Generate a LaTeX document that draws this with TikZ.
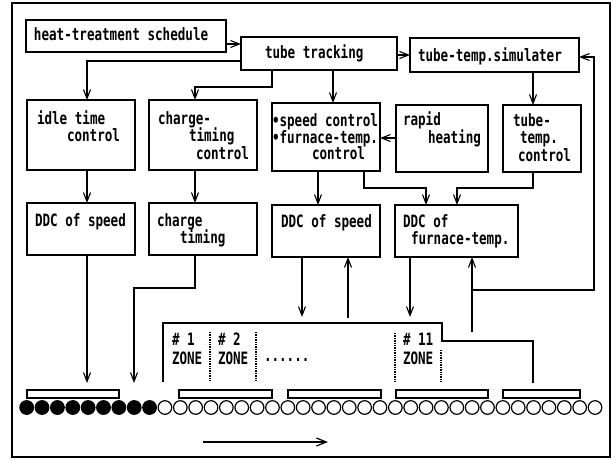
\documentclass[tikz,border=0pt]{standalone}
\usepackage{fontspec}
\setmonofont{DejaVu Sans Mono}[FakeStretch=0.74]
\usetikzlibrary{arrows.meta}
\begin{document}
\begin{tikzpicture}[x=1pt,y=-1pt,
  box/.style={draw, line width=1.4pt, inner sep=0pt, outer sep=0pt},
  txt/.style={inner sep=0pt, outer sep=0pt, anchor=west, text height=12pt, text depth=3pt,
    font=\fontsize{17}{19}\selectfont\ttfamily\bfseries},
  ln/.style={line width=1.3pt},
  arr/.style={line width=1.3pt, -{Straight Barb[length=9pt,width=7pt,line width=1.1pt]}},
  zdiv/.style={line width=1.4pt, densely dotted},
  roll/.style={draw, line width=1.2pt, minimum size=13.6pt, circle, inner sep=0pt}]
\useasboundingbox (0,0) rectangle (616,459);
% frame
\draw[line width=1.2pt] (12,3) rectangle (610,457);
% boxes
\node[box, minimum width=200pt, minimum height=32pt] (hts) at (126,36) {};
\node[box, minimum width=156pt, minimum height=33pt] (track) at (319,53.5) {};
\node[box, minimum width=169pt, minimum height=34pt] (sim) at (494.5,55) {};
\node[box, minimum width=108pt, minimum height=70pt] (idle) at (81,135) {};
\node[box, minimum width=108pt, minimum height=70pt] (ctc) at (203,135) {};
\node[box, minimum width=108pt, minimum height=68pt] (spd) at (326,137) {};
\node[box, minimum width=92pt, minimum height=67pt] (rapid) at (442,138.5) {};
\node[box, minimum width=78pt, minimum height=67pt] (ttc) at (542,138.5) {};
\node[box, minimum width=108pt, minimum height=52pt] (ddcsa) at (81,229) {};
\node[box, minimum width=108pt, minimum height=52pt] (ct) at (203,229) {};
\node[box, minimum width=108pt, minimum height=52pt] (ddcsb) at (326,231) {};
\node[box, minimum width=123pt, minimum height=52pt] (ddcf) at (456.5,231) {};
% texts
\node[txt] (t1) at (34,36) {heat-treatment schedule};
\node[txt] (t2) at (265,54) {tube tracking};
\node[txt] (t3) at (418,57) {tube-temp.simulater};
\node[txt] (t4) at (37,120) {idle time};
\node[txt] (t5) at (67,137) {control};
\node[txt] (t6) at (158,120) {charge-};
\node[txt] (t7) at (189,137) {timing};
\node[txt] (t8) at (196,155) {control};
\node[txt] (t9) at (272,122) {•speed control};
\node[txt] (t10) at (272,139) {•furnace-temp.};
\node[txt] (t11) at (312,155) {control};
\node[txt] (t12) at (403,121) {rapid};
\node[txt] (t13) at (428,139) {heating};
\node[txt] (t14) at (513,122) {tube-};
\node[txt] (t15) at (520,139) {temp.};
\node[txt] (t16) at (518,157) {control};
\node[txt] (t17) at (35,222) {DDC of speed};
\node[txt] (t18) at (157,222) {charge};
\node[txt] (t19) at (180,239) {timing};
\node[txt] (t20) at (281,223) {DDC of speed};
\node[txt] (t21) at (403,223) {DDC of};
\node[txt] (t22) at (411,240) {furnace-temp.};
\node[txt] (z1a) at (172,341) {\# 1};
\node[txt] (z1b) at (172,360) {ZONE};
\node[txt] (z2a) at (218,341) {\# 2};
\node[txt] (z2b) at (218,360) {ZONE};
\node[txt] (zdots) at (264,357) {......};
\node[txt] (z11a) at (403,341) {\# 11};
\node[txt] (z11b) at (403,360) {ZONE};
% named free ends
\coordinate (endA) at (87,383);
\coordinate (endB) at (134,383);
\coordinate (endC) at (302,317);
\coordinate (endD) at (410,317);
\coordinate (srcE) at (348,318);
\coordinate (srcF) at (472,332);
% connectors
\draw[arr] (hts.east |- 0,44) -- (track.west |- 0,44);
\draw[arr] (track.east |- 0,55) -- (sim.west |- 0,55);
\draw[arr] (track.west |- 0,61) -| (87,0 |- idle.north);
\draw[arr] (272,0 |- track.south) -- (272,87) -| (195,0 |- ctc.north);
\draw[arr] (333,0 |- track.south) -- (333,0 |- spd.north);
\draw[arr] (533,0 |- sim.south) -- (533,0 |- ttc.north);
\draw[arr] (rapid.west |- 0,138) -- (spd.east |- 0,138);
\draw[arr] (87,0 |- idle.south) -- (87,0 |- ddcsa.north);
\draw[arr] (195,0 |- ctc.south) -- (195,0 |- ct.north);
\draw[arr] (318,0 |- spd.south) -- (318,0 |- ddcsb.north);
\draw[arr] (364,0 |- spd.south) -- (364,188) -| (426,0 |- ddcf.north);
\draw[arr] (533,0 |- ttc.south) -- (533,188) -| (457,0 |- ddcf.north);
\draw[arr] (87,0 |- ddcsa.south) -- (endA);
\draw[arr] (195,0 |- ct.south) -- (195,288) -| (endB);
\draw[arr] (302,0 |- ddcsb.south) -- (endC);
\draw[arr] (410,0 |- ddcf.south) -- (endD);
\draw[arr] (srcE) -- (348,0 |- ddcsb.south);
\draw[arr] (srcF) -- (472,0 |- ddcf.south);
\draw[arr] (472,290) -| (594,57) -- (sim.east |- 0,57);
% zone outline
\draw[ln] (163,382) -- (163,323) -- (442,323) -- (442,341) -- (533,341) -- (533,383);
\draw[zdiv] (210,332) -- (210,382);
\draw[zdiv] (256,332) -- (256,382);
\draw[zdiv] (395,333) -- (395,382);
\draw[zdiv] (441,350) -- (441,382);
% roller bars
\foreach \a/\b in {27/119,179/272,288/381,396/488,503/580}
  \draw[line width=1.2pt] (\a,390) rectangle (\b,398);
% rollers
\foreach \i in {0,...,37}{
  \pgfmathsetmacro\cx{26.7+\i*15.36}
  \ifnum\i<9
    \node[roll, fill=black] (r\i) at (\cx,407.5) {};
  \else
    \node[roll] (r\i) at (\cx,407.5) {};
  \fi
}
% direction arrow
\coordinate (dirA) at (203,442);
\coordinate (dirB) at (328,442);
\draw[line width=1.2pt, -{Straight Barb[length=10pt,width=8pt,line width=1.2pt]}] (dirA) -- (dirB);
\end{tikzpicture}
\end{document}
